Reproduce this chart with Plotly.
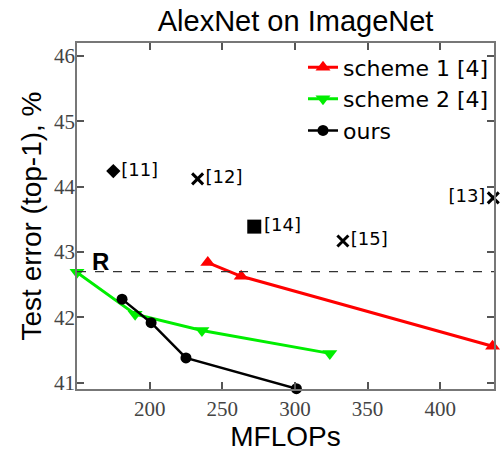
import plotly.graph_objects as go

# ---- data ----
s1_x = [240, 263, 436]
s1_y = [42.84, 42.63, 41.56]
s2_x = [150, 190, 236, 324]
s2_y = [42.69, 42.05, 41.80, 41.45]
ours_x = [181, 201, 225, 301]
ours_y = [42.28, 41.92, 41.38, 40.91]

ref_labels = ["[11]", "[12]", "[13]", "[14]", "[15]"]
ref_x = [175, 233, 436.5, 272, 333]
ref_y = [44.24, 44.12, 43.83, 43.39, 43.17]
ref_symbols = ["diamond", "x-thin", "x-thin", "square", "x-thin"]

baseline_y = 42.70
x_ticks = [200, 250, 300, 350, 400]
y_ticks = [41, 42, 43, 44, 45, 46]

fig = go.Figure()

fig.add_trace(go.Scatter(x=s1_x, y=s1_y, mode="lines+markers", name="scheme 1 [4]",
                         line=dict(color="#ff0000", width=3),
                         marker=dict(symbol="triangle-up", size=13, color="#ff0000"),
                         cliponaxis=False))
fig.add_trace(go.Scatter(x=s2_x, y=s2_y, mode="lines+markers", name="scheme 2 [4]",
                         line=dict(color="#00ee00", width=3),
                         marker=dict(symbol="triangle-down", size=13, color="#00ee00"),
                         cliponaxis=False))
fig.add_trace(go.Scatter(x=ours_x, y=ours_y, mode="lines+markers", name="ours",
                         line=dict(color="#000000", width=2.5),
                         marker=dict(symbol="circle", size=11, color="#000000"),
                         cliponaxis=False))

for lbl, xv, yv, sym in zip(ref_labels, ref_x, ref_y, ref_symbols):
    is_x = sym.startswith("x")
    fig.add_trace(go.Scatter(
        x=[xv], y=[yv], mode="markers+text", showlegend=False,
        text=[lbl], textposition="middle left" if lbl == "[13]" else "middle right",
        textfont=dict(family="DejaVu Sans", size=18, color="#000000"),
        marker=dict(symbol=sym, size=11 if is_x else (14 if sym == "square" else 11),
                    color="#000000",
                    line=dict(color="#000000", width=3 if is_x else 0)),
        cliponaxis=False))

fig.add_shape(type="line", xref="paper", x0=0, x1=1, yref="y", y0=baseline_y, y1=baseline_y,
              line=dict(color="#333333", width=1.3, dash="dash"))
fig.add_annotation(x=166, y=42.86, text="<b>R</b>", showarrow=False,
                   font=dict(family="Liberation Sans", size=24, color="#000000"))

axis_common = dict(showline=True, linecolor="#777777", linewidth=1.5, mirror="ticks",
                   ticks="inside", ticklen=7, tickcolor="#555555", tickwidth=1.5,
                   showgrid=False, zeroline=False, automargin=False,
                   tickfont=dict(family="Liberation Serif", size=21, color="#444444"))

fig.update_xaxes(range=[150, 437], tickvals=x_ticks,
                 title=dict(text="MFLOPs", font=dict(family="Liberation Sans", size=28, color="#000"),
                            standoff=6),
                 **axis_common)
fig.update_yaxes(range=[40.905, 46.2], tickvals=y_ticks, ticklabelstandoff=-4,
                 title=dict(text="Test error (top-1), %", font=dict(family="Liberation Sans", size=28, color="#000"),
                            standoff=4),
                 **axis_common)

fig.update_layout(
    width=501, height=453,
    margin=dict(l=77, r=7, t=43, b=64),
    paper_bgcolor="white", plot_bgcolor="white",
    title=dict(text="AlexNet on ImageNet", x=0.59, xanchor="center", y=0.955, yanchor="middle",
               font=dict(family="Liberation Sans", size=29, color="#000")),
    legend=dict(x=1.0, xanchor="right", y=0.99, yanchor="top", bgcolor="rgba(0,0,0,0)",
                font=dict(family="DejaVu Sans", size=22, color="#000"),
                tracegroupgap=0, itemsizing="trace"),
    showlegend=True,
)

fig.write_html("out.html", config={"displayModeBar": False},
               post_script="document.body.style.margin='0';document.body.style.overflow='hidden';")
